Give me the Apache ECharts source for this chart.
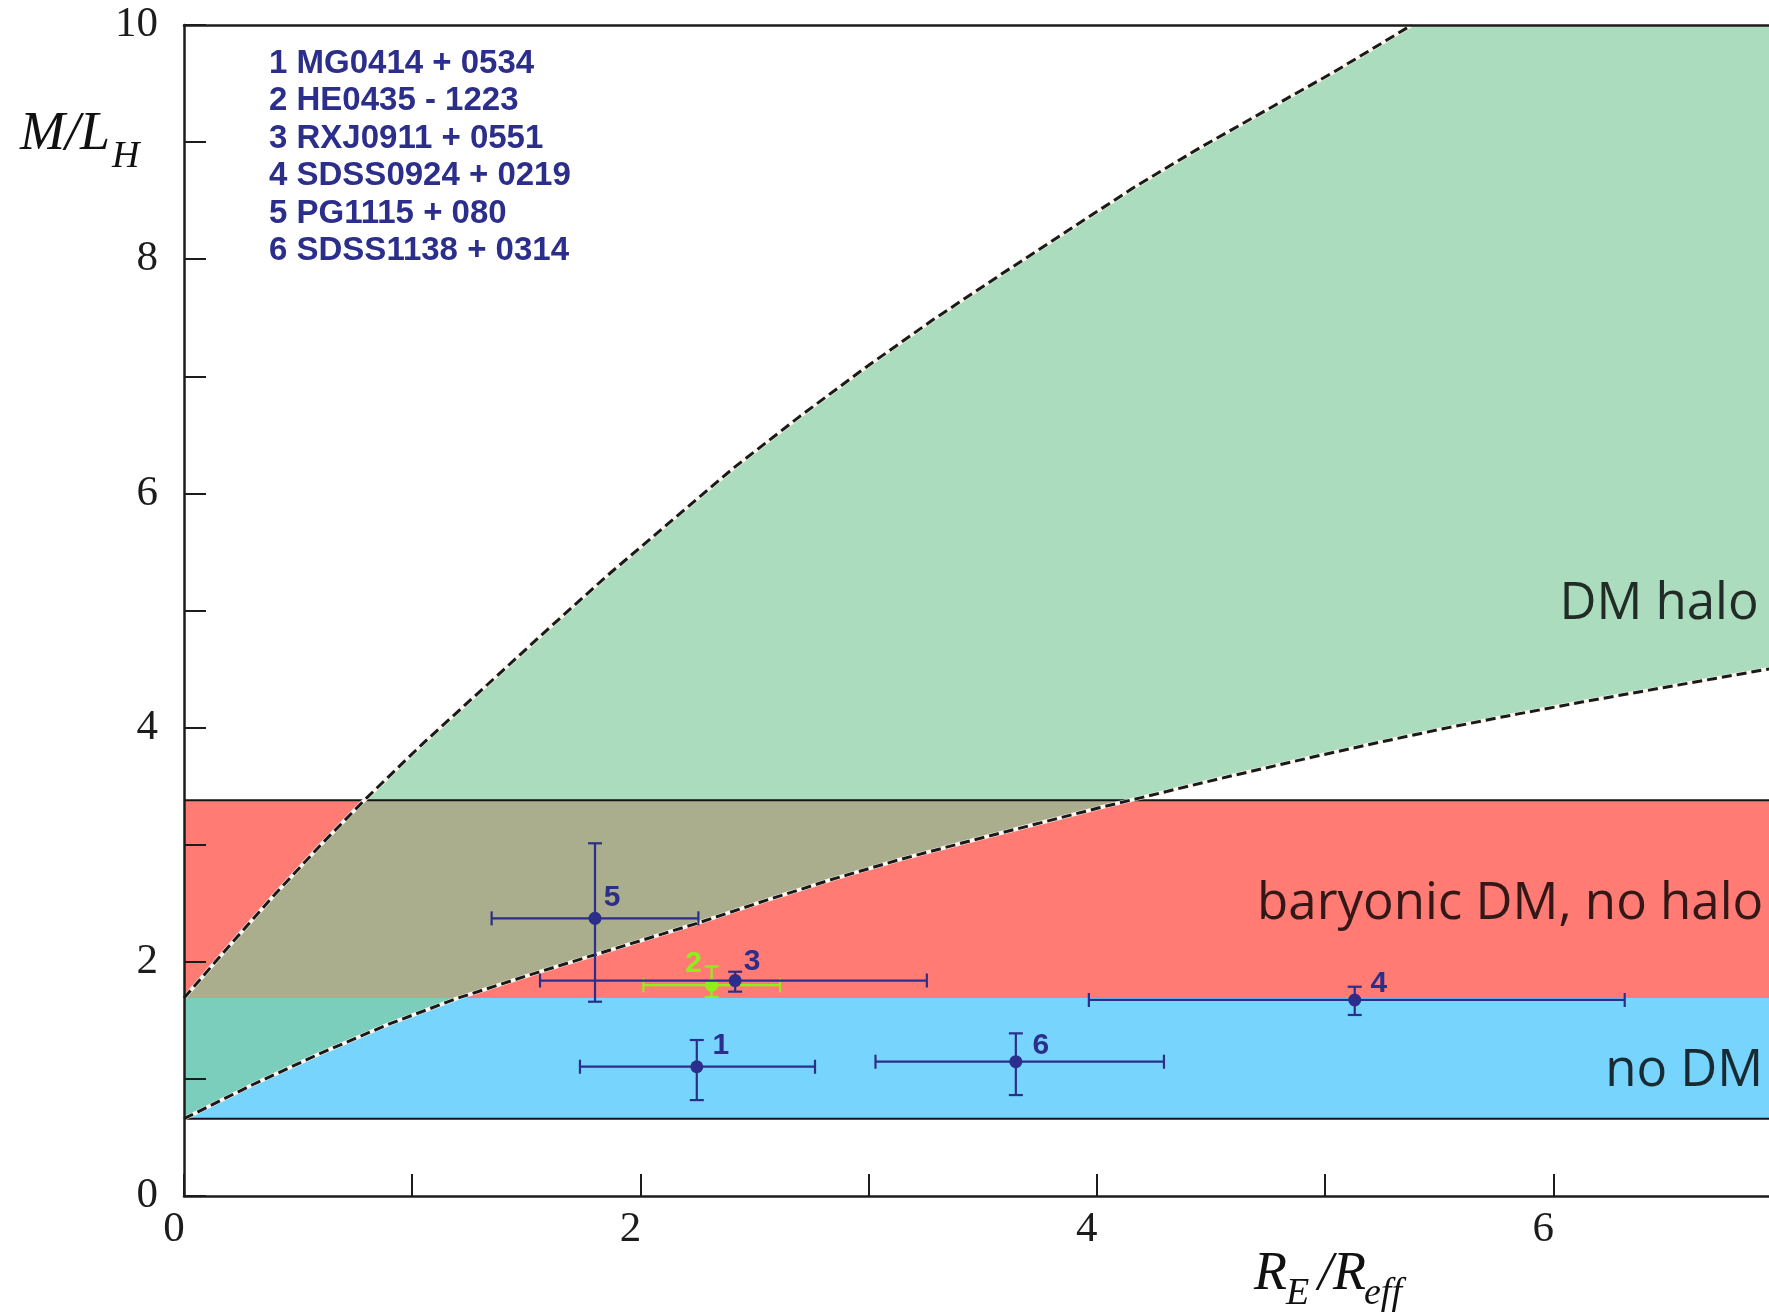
<!DOCTYPE html>
<html>
<head>
<meta charset="utf-8">
<title>M/L_H vs R_E/R_eff</title>
<script src="https://cdn.jsdelivr.net/npm/echarts@6/dist/echarts.min.js"></script>
<style>
html, body { margin: 0; padding: 0; background: #fff; }
#chart { width: 1769px; height: 1315px; }
</style>
</head>
<body>
<div id="chart"></div>
<script>
// lens systems (error bars)
const lensIds = ['1', '2', '3', '4', '5', '6'];
const lensNames = ['1 MG0414 + 0534', '2 HE0435 - 1223', '3 RXJ0911 + 0551',
                   '4 SDSS0924 + 0219', '5 PG1115 + 080', '6 SDSS1138 + 0314'];
const reRatio      = [2.247, 2.312, 2.415, 5.13, 1.801, 3.645];
const reRatioLow   = [1.735, 2.013, 1.56, 3.965, 1.348, 3.03];
const reRatioHigh  = [2.765, 2.612, 3.255, 6.313, 2.254, 4.294];
const massToLight     = [1.104, 1.80, 1.84, 1.674, 2.371, 1.147];
const massToLightLow  = [0.819, 1.70, 1.745, 1.546, 1.659, 0.862];
const massToLightHigh = [1.332, 1.96, 1.915, 1.787, 3.012, 1.389];

// dashed boundaries of the DM halo region
const haloUpperX = [0, 0.2, 0.4, 0.6, 0.79, 1.05, 1.32, 1.6, 1.85, 2.12, 2.41, 2.70, 2.99, 3.28, 3.58, 3.87, 4.16, 4.45, 4.74, 5.04, 5.38];
const haloUpperY = [1.69, 2.14, 2.58, 3.0, 3.38, 3.87, 4.35, 4.85, 5.29, 5.74, 6.22, 6.66, 7.08, 7.48, 7.87, 8.24, 8.61, 8.95, 9.27, 9.60, 10.0];
const haloLowerX = [0, 0.3, 0.6, 0.9, 1.2, 1.55, 1.75, 2.25, 2.55, 2.85, 3.14, 3.43, 3.72, 4.01, 4.19, 4.54, 4.96, 5.25, 5.54, 5.84, 6.13, 6.42, 6.71, 7.0];
const haloLowerY = [0.66, 0.95, 1.22, 1.47, 1.69, 1.91, 2.03, 2.33, 2.525, 2.71, 2.875, 3.025, 3.17, 3.315, 3.40, 3.565, 3.755, 3.88, 4.00, 4.115, 4.22, 4.32, 4.42, 4.52];

// horizontal bands [low, high]
const noDmBand = [0.66, 1.69];
const baryonicBand = [1.69, 3.38];
const bandEdges = [3.38, 0.66];

// region captions [x, y, text]
const regionLabels = [
  [6.90, 5.05, 'DM halo'],
  [6.92, 2.49, 'baryonic DM, no halo'],
  [6.92, 1.06, 'no DM']
];

const navy = '#2b2e8a';
const lensColors = [navy, '#8ef01a', navy, navy, navy, navy];
const labelOffsets = [[24, -21], [-18, -21], [17, -19], [24, -16], [17, -21], [25, -16]];
const bandColors = ['#77d5fd', '#ff7b74'];
const axisColor = '#1c1c1c';

const chart = echarts.init(document.getElementById('chart'));

const zip = (xs, ys) => xs.map((x, i) => [x, ys[i]]);

const axisCommon = {
  type: 'value',
  interval: 1,
  z: 10,
  splitLine: { show: false },
  axisLine: { show: true, lineStyle: { color: axisColor, width: 2.5 } },
  axisTick: { show: true, inside: true, length: 22, lineStyle: { color: axisColor, width: 2 } }
};

const option = {
  animation: false,
  grid: { left: 184, top: 25, width: 1597.5, height: 1171, outerBoundsMode: 'none', containLabel: false },
  xAxis: [
    Object.assign({}, axisCommon, {
      min: 0, max: 7, position: 'bottom',
      axisLabel: {
        margin: 12, padding: [0, 20, 0, 0],
        fontFamily: 'Liberation Serif', fontSize: 43, color: axisColor,
        formatter: v => (v % 2 === 0 ? String(v) : '')
      }
    }),
    {
      type: 'value', min: 0, max: 7, position: 'top', z: 10,
      splitLine: { show: false }, axisTick: { show: false }, axisLabel: { show: false },
      axisLine: { show: true, lineStyle: { color: axisColor, width: 2.5 } }
    }
  ],
  yAxis: Object.assign({}, axisCommon, {
    min: 0, max: 10,
    axisLabel: {
      margin: 26,
      fontFamily: 'Liberation Serif', fontSize: 43, color: axisColor,
      formatter: v => (v % 2 === 0 ? String(v) : '')
    }
  }),
  graphic: [
    { type: 'text', left: 269, top: 45, z: 20,
      style: { text: lensNames.join('\n'), font: 'bold 33px "Liberation Sans"', fill: navy, lineHeight: 37.5 } },
    { type: 'text', x: 20, y: 135, style: { text: 'M/L', font: 'italic 54px "Liberation Serif"', fill: '#111', verticalAlign: 'middle' } },
    { type: 'text', x: 112, y: 157, style: { text: 'H', font: 'italic 38px "Liberation Serif"', fill: '#111', verticalAlign: 'middle' } },
    { type: 'text', x: 1254, y: 1275, style: { text: 'R', font: 'italic 54px "Liberation Serif"', fill: '#111', verticalAlign: 'middle' } },
    { type: 'text', x: 1286, y: 1294, style: { text: 'E', font: 'italic 38px "Liberation Serif"', fill: '#111', verticalAlign: 'middle' } },
    { type: 'text', x: 1318, y: 1275, style: { text: '/R', font: 'italic 54px "Liberation Serif"', fill: '#111', verticalAlign: 'middle' } },
    { type: 'text', x: 1364, y: 1294, style: { text: 'eff', font: 'italic 38px "Liberation Serif"', fill: '#111', verticalAlign: 'middle' } }
  ],
  series: [
    {
      // no DM / baryonic DM bands
      type: 'custom', name: 'bands', z: 1, silent: true,
      data: [noDmBand, baryonicBand],
      encode: { y: [0, 1] },
      renderItem(params, api) {
        const cs = params.coordSys;
        const yLo = api.coord([0, api.value(0)])[1];
        const yHi = api.coord([0, api.value(1)])[1];
        return { type: 'rect', shape: { x: cs.x, y: yHi, width: cs.width, height: yLo - yHi },
                 style: { fill: bandColors[params.dataIndex] } };
      }
    },
    {
      // DM halo region between the two dashed curves
      type: 'custom', name: 'halo', z: 2, silent: true,
      data: [[0]],
      renderItem(params, api) {
        const pts = zip(haloUpperX, haloUpperY).map(p => api.coord(p));
        pts.push(api.coord([7, 10]));
        zip(haloLowerX, haloLowerY).reverse().forEach(p => pts.push(api.coord(p)));
        return { type: 'polygon', shape: { points: pts }, style: { fill: 'rgba(126,201,153,0.65)' } };
      }
    },
    {
      type: 'custom', name: 'bandEdges', z: 3, silent: true,
      data: bandEdges.map(v => [0, v]),
      renderItem(params, api) {
        const cs = params.coordSys;
        const y = api.coord([0, api.value(1)])[1];
        return { type: 'line', shape: { x1: cs.x, y1: y, x2: cs.x + cs.width, y2: y },
                 style: { stroke: '#151515', lineWidth: 2 } };
      }
    },
    // dashed curves: light under-stroke + dark dashes
    ...[[haloUpperX, haloUpperY], [haloLowerX, haloLowerY]].flatMap(([xs, ys]) => [
      { type: 'line', z: 4, silent: true, showSymbol: false, data: zip(xs, ys),
        lineStyle: { color: '#fbf6ee', width: 4 } },
      { type: 'line', z: 5, silent: true, showSymbol: false, data: zip(xs, ys),
        lineStyle: { color: '#1a1a1a', width: 3, type: [10, 5] } }
    ]),
    {
      type: 'custom', name: 'lenses', z: 8,
      data: lensIds.map((id, i) => [reRatio[i], massToLight[i], reRatioLow[i], reRatioHigh[i], massToLightLow[i], massToLightHigh[i]]),
      encode: { x: [0, 2, 3], y: [1, 4, 5] },
      renderItem(params, api) {
        const i = params.dataIndex;
        const c = api.coord([api.value(0), api.value(1)]);
        const l = api.coord([api.value(2), api.value(1)]);
        const r = api.coord([api.value(3), api.value(1)]);
        const b = api.coord([api.value(0), api.value(4)]);
        const t = api.coord([api.value(0), api.value(5)]);
        const color = lensColors[i];
        const ls = { stroke: color, lineWidth: 2.2 };
        const cap = 7;
        const off = labelOffsets[i];
        return {
          type: 'group',
          children: [
            { type: 'line', shape: { x1: l[0], y1: l[1], x2: r[0], y2: r[1] }, style: ls },
            { type: 'line', shape: { x1: b[0], y1: b[1], x2: t[0], y2: t[1] }, style: ls },
            { type: 'line', shape: { x1: l[0], y1: l[1] - cap, x2: l[0], y2: l[1] + cap }, style: ls },
            { type: 'line', shape: { x1: r[0], y1: r[1] - cap, x2: r[0], y2: r[1] + cap }, style: ls },
            { type: 'line', shape: { x1: t[0] - cap, y1: t[1], x2: t[0] + cap, y2: t[1] }, style: ls },
            { type: 'line', shape: { x1: b[0] - cap, y1: b[1], x2: b[0] + cap, y2: b[1] }, style: ls },
            { type: 'circle', shape: { cx: c[0], cy: c[1], r: 6.5 }, style: { fill: color } },
            { type: 'text', x: c[0] + off[0], y: c[1] + off[1],
              style: { text: lensIds[i], fill: color, font: 'bold 30px "Liberation Sans"', align: 'center', verticalAlign: 'middle' } }
          ]
        };
      }
    },
    {
      type: 'scatter', name: 'regions', z: 9, silent: true,
      symbolSize: 0,
      data: regionLabels,
      label: {
        show: true, position: 'left', distance: 0,
        formatter: p => p.value[2],
        color: '#000', fontSize: 51, fontFamily: 'Open Sans'
      }
    }
  ]
};

chart.setOption(option);
</script>
</body>
</html>
